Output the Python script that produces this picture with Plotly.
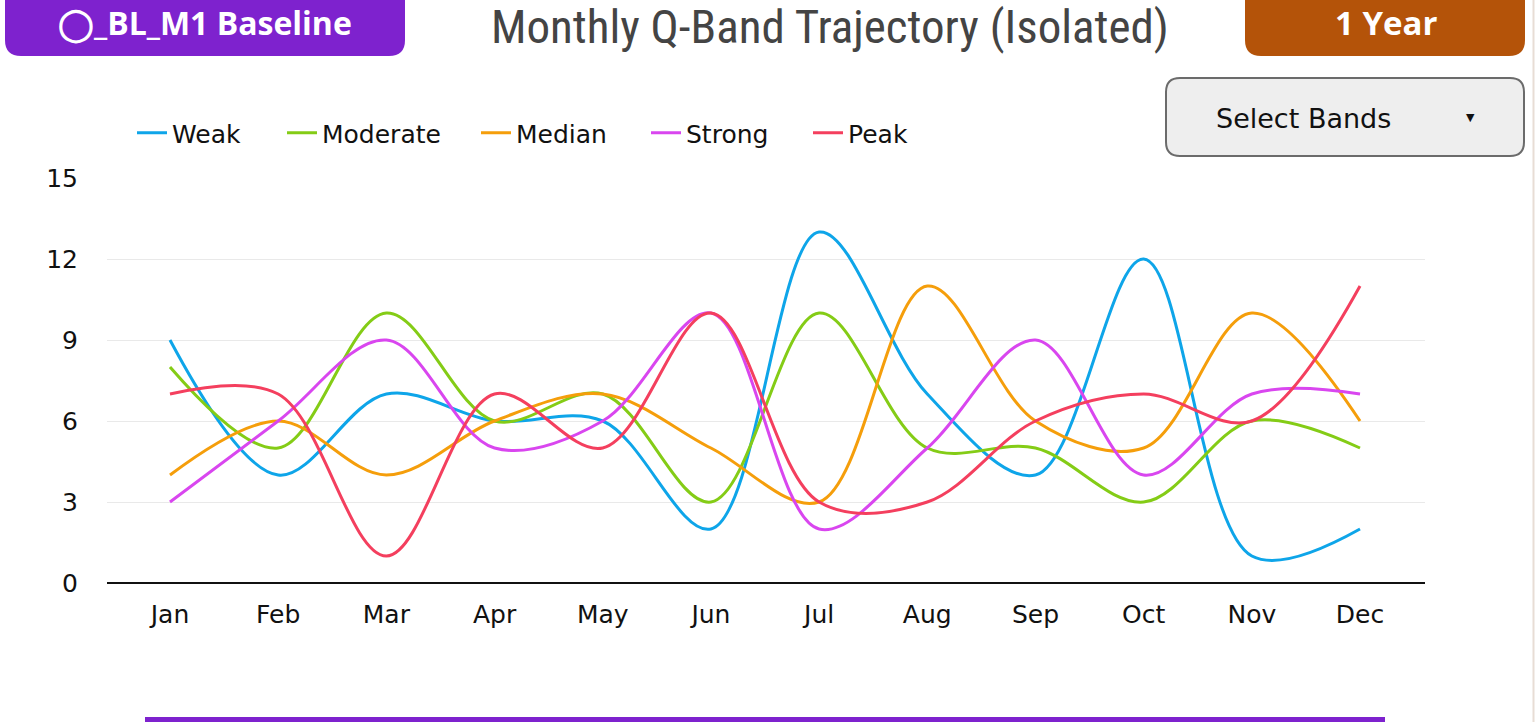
import plotly.graph_objects as go

months = ["Jan", "Feb", "Mar", "Apr", "May", "Jun", "Jul", "Aug", "Sep", "Oct", "Nov", "Dec"]
weak = [9, 4, 7, 6, 6, 2, 13, 7, 4, 12, 1, 2]
moderate = [8, 5, 10, 6, 7, 3, 10, 5, 5, 3, 6, 5]
median = [4, 6, 4, 6, 7, 5, 3, 11, 6, 5, 10, 6]
strong = [3, 6, 9, 5, 6, 10, 2, 5, 9, 4, 7, 7]
peak = [7, 7, 1, 7, 5, 10, 3, 3, 6, 7, 6, 11]
series_names = ["Weak", "Moderate", "Median", "Strong", "Peak"]
series_values = [weak, moderate, median, strong, peak]
colors = ["#0ea5e9", "#84cc16", "#f59e0b", "#d946ef", "#f43f5e"]
y_ticks = [0, 3, 6, 9, 12, 15]

W, H = 1536, 722
L, R, T, B = 107, 1425, 178, 583
FONT = "DejaVu Sans, sans-serif"
BADGE_FONT = "Open Sans, sans-serif"
legend_text_px = [173, 323, 517, 687, 849]


def px(x):
    return (x - L) / (R - L)


def py(y):
    return (B - y) / (B - T)


def rrect(x0, y0, x1, y1, r):
    rx = r / (R - L)
    ry = r / (B - T)
    X0, X1 = px(x0), px(x1)
    Y0, Y1 = py(y0), py(y1)
    return (f"M {X0+rx},{Y0} L {X1-rx},{Y0} Q {X1},{Y0} {X1},{Y0-ry} "
            f"L {X1},{Y1+ry} Q {X1},{Y1} {X1-rx},{Y1} L {X0+rx},{Y1} "
            f"Q {X0},{Y1} {X0},{Y1+ry} L {X0},{Y0-ry} Q {X0},{Y0} {X0+rx},{Y0} Z")


fig = go.Figure()
legend_layout = {}
for i, (name, vals, c) in enumerate(zip(series_names, series_values, colors)):
    lg = "legend" if i == 0 else f"legend{i + 1}"
    fig.add_trace(go.Scatter(
        x=months, y=vals, name=name, mode="lines", legend=lg,
        line=dict(color=c, width=3, shape="spline", smoothing=1.0),
        hovertemplate="%{x}: %{y}<extra>" + name + "</extra>",
    ))
    legend_layout[lg] = dict(orientation="h", x=px(legend_text_px[i] - 41), xanchor="left",
                             y=py(110), yanchor="top",
                             font=dict(family=FONT, size=25, color="#111111"),
                             bgcolor="rgba(0,0,0,0)")

shapes = [
    dict(type="path", xref="paper", yref="paper", path=rrect(5, -20, 405, 56, 16),
         fillcolor="#7e22ce", line=dict(width=0), layer="above"),
    dict(type="path", xref="paper", yref="paper", path=rrect(1245, -20, 1525, 56, 16),
         fillcolor="#b45309", line=dict(width=0), layer="above"),
    dict(type="path", xref="paper", yref="paper", path=rrect(1166, 78, 1524, 156, 14),
         fillcolor="#eeeeee", line=dict(width=2, color="#6b6b6b"), layer="above"),
    dict(type="rect", xref="paper", yref="paper", x0=px(145), x1=px(1385), y0=py(722), y1=py(717),
         fillcolor="#7e22ce", line=dict(width=0)),
    dict(type="line", xref="paper", yref="paper", x0=px(1533.5), x1=px(1533.5), y0=py(0), y1=py(722),
         line=dict(width=2, color="#e8ddd5")),
]

annotations = [
    dict(text="<b>◯_BL_M1 Baseline</b>", xref="paper", yref="paper", x=px(205), y=py(22),
         xanchor="center", yanchor="middle", showarrow=False,
         font=dict(family=BADGE_FONT, size=32, color="white")),
    dict(text="<b>1 Year</b>", xref="paper", yref="paper", x=px(1386), y=py(22),
         xanchor="center", yanchor="middle", showarrow=False,
         font=dict(family=BADGE_FONT, size=33, color="white")),
    dict(text="Monthly Q-Band Trajectory (Isolated)", xref="paper", yref="paper", x=px(830), y=py(26),
         xanchor="center", yanchor="middle", showarrow=False,
         font=dict(family="Liberation Sans Narrow, Roboto Condensed, Roboto, sans-serif", size=47, color="#444444")),
    dict(text="Select Bands", xref="paper", yref="paper", x=px(1214), y=py(118),
         xanchor="left", yanchor="middle", showarrow=False,
         font=dict(family=FONT, size=27, color="#111111")),
    dict(text="▼", xref="paper", yref="paper", x=px(1470), y=py(117),
         xanchor="center", yanchor="middle", showarrow=False,
         font=dict(family=FONT, size=11, color="#111111")),
]

fig.update_layout(
    width=W, height=H,
    margin=dict(l=L, r=W - R, t=T, b=H - B, autoexpand=False),
    paper_bgcolor="white", plot_bgcolor="white",
    font=dict(family=FONT, size=24, color="#111111"),
    showlegend=True,
    shapes=shapes, annotations=annotations,
    xaxis=dict(type="category", range=[-63 / 108.2, 11 + 65 / 108.2],
               showgrid=False, showline=False, zeroline=False, ticks="",
               tickfont=dict(family=FONT, size=25, color="#111111"), ticklabelstandoff=14),
    yaxis=dict(range=[0, 15], tickvals=y_ticks, showgrid=True, gridcolor="#e9e9e9", gridwidth=1,
               zeroline=True, zerolinecolor="#111111", zerolinewidth=2, showline=False, ticks="",
               tickfont=dict(family=FONT, size=25, color="#111111"), ticklabelstandoff=28),
    **legend_layout,
)

fig.write_html("out.html", config={"displayModeBar": False},
               post_script="document.body.style.margin='0';document.body.style.overflow='hidden';")
